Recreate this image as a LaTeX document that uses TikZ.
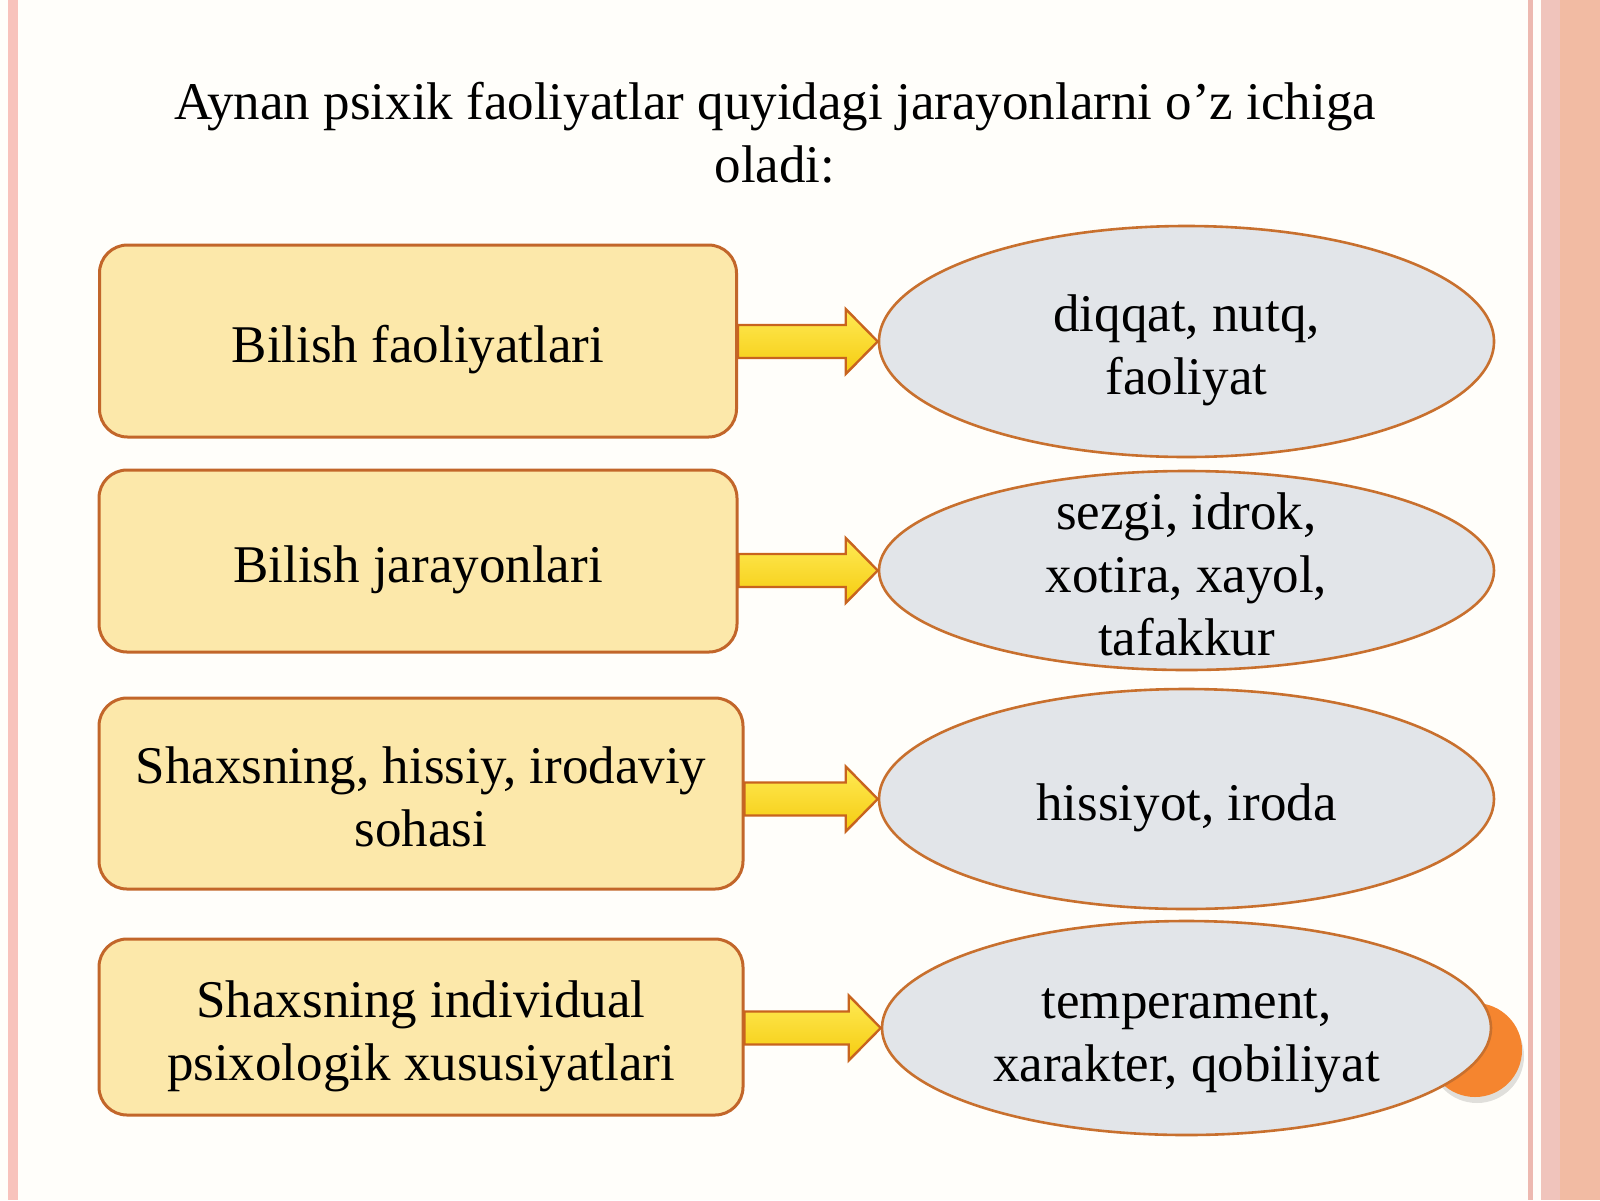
\documentclass[tikz,border=0pt]{standalone}
\usepackage{fontspec}
\setmainfont{Liberation Serif}
\usetikzlibrary{calc,shapes.geometric}
\definecolor{slidebg}{HTML}{FFFEFA}
\definecolor{boxfill}{HTML}{FCE8AA}
\definecolor{boxline}{HTML}{C2662A}
\definecolor{ovalfill}{HTML}{E2E5E9}
\definecolor{ovalline}{HTML}{C8702E}
\definecolor{arrowtop}{HTML}{FFEA55}
\definecolor{arrowbot}{HTML}{F5CC10}
\definecolor{arrowline}{HTML}{C8641E}
\definecolor{dotorange}{HTML}{F5852F}
\definecolor{leftpink}{HTML}{F8C3BC}
\definecolor{edgepink}{HTML}{EDB9B0}
\definecolor{edgesalmon}{HTML}{F2BBA3}
\newcommand\celltext[1]{\raisebox{-10.8pt}[0pt][0pt]{\begin{tabular}{@{}c@{}}#1\end{tabular}}}
\begin{document}
\begin{tikzpicture}[x=0.5pt,y=-0.5pt]
    \tikzstyle{txt}=[inner sep=0pt, font=\fontsize{26.5}{31.5}\selectfont]
    \tikzstyle{box}=[txt, draw=boxline, fill=boxfill, line width=1.5pt, rounded corners=14pt]
    \tikzstyle{oval}=[txt, ellipse, draw=ovalline, fill=ovalfill, line width=1.3pt]
    \tikzstyle{fatarrow}=[draw=arrowline, line width=1.2pt, top color=arrowtop, bottom color=arrowbot]
    \useasboundingbox (0,0) rectangle (1600,1200);
    \fill[slidebg] (0,0) rectangle (1600,1200);
    % side stripes
    \fill[leftpink] (8,0) rectangle (18,1200);
    \fill[edgepink] (1528,0) rectangle (1533,1200);
    \fill[edgepink!85] (1541,0) rectangle (1560,1200);
    \fill[edgesalmon] (1560,0) rectangle (1600,1200);
    \node[txt] (title) at (775,129.5) {\celltext{Aynan psixik faoliyatlar quyidagi jarayonlarni o’z ichiga\\ oladi:}};
    % left boxes
    \node[box, minimum width=318.5pt, minimum height=96pt] (b1) at (418,341) {\celltext{Bilish faoliyatlari}};
    \node[box, minimum width=319pt, minimum height=91pt] (b2) at (418,561) {\celltext{Bilish jarayonlari}};
    \node[box, minimum width=322pt, minimum height=95.5pt] (b3) at (421,793.5) {\celltext{Shaxsning, hissiy, irodaviy\\ sohasi}};
    \node[box, minimum width=322pt, minimum height=88pt] (b4) at (421,1027) {\celltext{Shaxsning individual\\ psixologik xususiyatlari}};
    % orange dot behind the last oval
    \fill[black, opacity=.12] (1477,1056) circle (23.5pt);
    \fill[dotorange] (1475,1050) circle (23.5pt);
    % right ovals
    \node[oval, minimum width=307.5pt, minimum height=115.5pt] (e1) at (1186.5,341.5) {\celltext{diqqat, nutq,\\ faoliyat}};
    \node[oval, minimum width=307.5pt, minimum height=99.5pt] (e2) at (1186.5,570.5) {\celltext{sezgi, idrok,\\ xotira, xayol,\\ tafakkur}};
    \node[oval, minimum width=307.5pt, minimum height=110pt] (e3) at (1186.5,799) {\celltext{hissiyot, iroda}};
    \node[oval, minimum width=304.5pt, minimum height=107pt] (e4) at (1186.5,1028) {\celltext{temperament,\\ xarakter, qobiliyat}};
    % block arrows
    \foreach \i in {1,...,4}
      \draw[fatarrow] let \p1=(b\i.east), \p2=(e\i.west) in
        (\x1,\y2+8.25pt) -- (\x2-16pt,\y2+8.25pt) -- (\x2-16pt,\y2+16.25pt) -- (\x2,\y2)
        -- (\x2-16pt,\y2-16.25pt) -- (\x2-16pt,\y2-8.25pt) -- (\x1,\y2-8.25pt) -- cycle;
\end{tikzpicture}
\end{document}
